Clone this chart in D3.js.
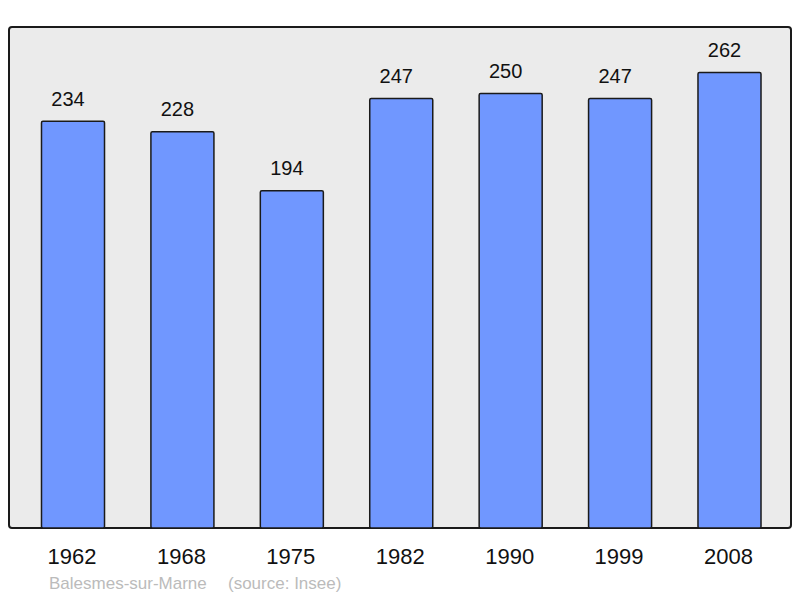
<!DOCTYPE html>
<html>
<head>
<meta charset="utf-8">
<script src="https://cdn.jsdelivr.net/npm/d3@7"></script>
<style>
  body { margin: 0; background: #fff; }
  text { font-family: "Liberation Sans", Arial, sans-serif; }
</style>
</head>
<body>
<div id="chart"></div>
<script>
// data
let years = ["1962", "1968", "1975", "1982", "1990", "1999", "2008"];
let population = [234, 228, 194, 247, 250, 247, 262];

let W = 800, H = 598;
let frame = {left: 9, top: 27, right: 791, bottom: 528};

let svg = d3.select("#chart").append("svg")
    .attr("width", W)
    .attr("height", H);

// plot background
svg.append("rect")
    .attr("x", frame.left)
    .attr("y", frame.top)
    .attr("width", frame.right - frame.left)
    .attr("height", frame.bottom - frame.top)
    .attr("rx", 3)
    .attr("fill", "#ebebeb")
    .attr("stroke", "#1a1a1a")
    .attr("stroke-width", 2);

let xScale = d3.scaleBand()
    .domain(years)
    .range([18.3, 784.2])
    .paddingInner(0.424)
    .paddingOuter(0.212);

let yScale = d3.scaleLinear()
    .domain([0, d3.max(population) * 1.1])
    .range([frame.bottom, frame.top]);

let data = years.map((y, i) => ({year: y, value: population[i]}));

svg.selectAll(".bar")
    .data(data)
  .enter().append("rect")
    .attr("class", "bar")
    .attr("x", d => xScale(d.year))
    .attr("y", d => yScale(d.value))
    .attr("width", xScale.bandwidth())
    .attr("height", d => frame.bottom - yScale(d.value))
    .attr("rx", 1.5)
    .attr("fill", "#7097ff")
    .attr("stroke", "#1a1a1a")
    .attr("stroke-width", 1.5);

// value labels (sit a bit left of the bar centre, as in the original)
svg.selectAll(".val")
    .data(data)
  .enter().append("text")
    .attr("class", "val")
    .attr("x", d => xScale(d.year) + xScale.bandwidth() / 2 - 5)
    .attr("y", d => yScale(d.value) - 15.5)
    .attr("text-anchor", "middle")
    .attr("font-size", 20)
    .attr("fill", "#111")
    .text(d => d.value);

// x axis, no line, no ticks
let xAxis = svg.append("g")
    .attr("transform", `translate(-1, ${frame.bottom})`)
    .call(d3.axisBottom(xScale).tickSize(0).tickPadding(0));
xAxis.select(".domain").remove();
xAxis.selectAll("text")
    .attr("dy", null)
    .attr("y", 36.3)
    .attr("font-size", 22)
    .attr("font-family", "Liberation Sans, Arial, sans-serif")
    .attr("fill", "#111");

// source line
svg.append("text")
    .attr("x", 49)
    .attr("y", 589)
    .attr("font-size", 17)
    .attr("fill", "#bbbbbb")
    .text("Balesmes-sur-Marne");
svg.append("text")
    .attr("x", 228)
    .attr("y", 589)
    .attr("font-size", 17)
    .attr("fill", "#bbbbbb")
    .text("(source: Insee)");
</script>
</body>
</html>
